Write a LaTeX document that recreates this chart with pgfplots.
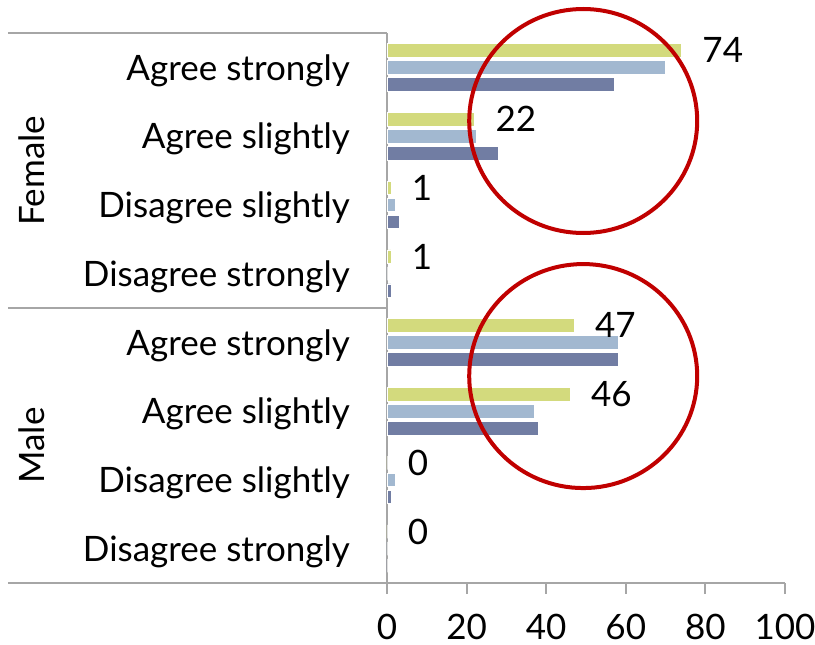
\documentclass[border=0pt]{standalone}
\usepackage{pgfplots}
\pgfplotsset{compat=1.18}
\usepackage{fontspec}
\setmainfont{Lato}

\definecolor{barA}{HTML}{D3DA7D}
\definecolor{barB}{HTML}{A2B8D0}
\definecolor{barC}{HTML}{717DA3}
\definecolor{ring}{HTML}{C00000}
\definecolor{rule}{HTML}{A6A6A6}

\newcommand{\lblfont}{\fontsize{17.5}{20}\selectfont}

% rows from bottom (0) to top (7): Male 0-3, Female 4-7
\pgfplotstableread{
row  s1  s2    s3
7    74  70    57
6    22  22.5  28
5    1   2     3
4    1   0     1
3    47  58    58
2    46  37    38
1    0   2     1
0    0   0     0
}\responses

\begin{document}
\begin{tikzpicture}
\begin{axis}[
  scale only axis,
  width=199pt, height=275pt,
  xmin=0, xmax=100,
  ymin=-0.5, ymax=7.5,
  xbar, bar width=6.75pt,
  axis x line*=bottom, axis y line*=left,
  axis line style={draw=rule, line width=1pt, -},
  xtick={0,20,...,100},
  tick align=outside,
  major tick length=5.5pt,
  xtick style={draw=rule, line width=1pt},
  ytick={0,...,7},
  yticklabels={Disagree strongly, Disagree slightly, Agree slightly, Agree strongly,
               Disagree strongly, Disagree slightly, Agree slightly, Agree strongly},
  ytick style={draw=none},
  tick label style={font=\lblfont},
  /pgf/number format/assume math mode=true,
  yticklabel style={anchor=east, xshift=-9.5pt, yshift=-1.5pt},
  xticklabel style={yshift=-6.5pt},
  clip=false,
]
\addplot[fill=barA, draw=white, line width=0.3pt, bar shift=8.5pt,
  nodes near coords={\pgfmathprintnumber[fixed,precision=0]{\pgfplotspointmeta}},
  nodes near coords style={anchor=west, xshift=7pt, font=\lblfont, text=black}]
  table[x=s1, y=row] {\responses};
\addplot[fill=barB, draw=white, line width=0.3pt, bar shift=0pt]
  table[x=s2, y=row] {\responses};
\addplot[fill=barC, draw=white, line width=0.3pt, bar shift=-8.5pt]
  table[x=s3, y=row] {\responses};

% group separators of the two-level category axis
\draw[rule, line width=1pt] ([xshift=-189.5pt]axis cs:0,7.5) -- (axis cs:0,7.5);
\draw[rule, line width=1pt] ([xshift=-189.5pt]axis cs:0,3.5) -- (axis cs:0,3.5);
\draw[rule, line width=1pt] ([xshift=-189.5pt]axis cs:0,-0.5) -- (axis cs:0,-0.5);
\node[rotate=90, anchor=base, font=\lblfont] at ([xshift=-171pt]axis cs:0,5.5) {Female};
\node[rotate=90, anchor=base, font=\lblfont] at ([xshift=-171pt]axis cs:0,1.5) {Male};

% highlight rings
\draw[ring, line width=2pt] (axis cs:49.3,6.22) ellipse [x radius=57pt, y radius=56pt];
\draw[ring, line width=2pt] (axis cs:49.3,2.51) ellipse [x radius=57pt, y radius=56pt];

\coordinate (bbtl) at ([xshift=-193.5pt,yshift=16.5pt]rel axis cs:0,1);
\coordinate (bbbr) at ([xshift=15pt,yshift=-30.5pt]rel axis cs:1,0);
\end{axis}
\pgfresetboundingbox
\path (bbtl) rectangle (bbbr);
\end{tikzpicture}
\end{document}
